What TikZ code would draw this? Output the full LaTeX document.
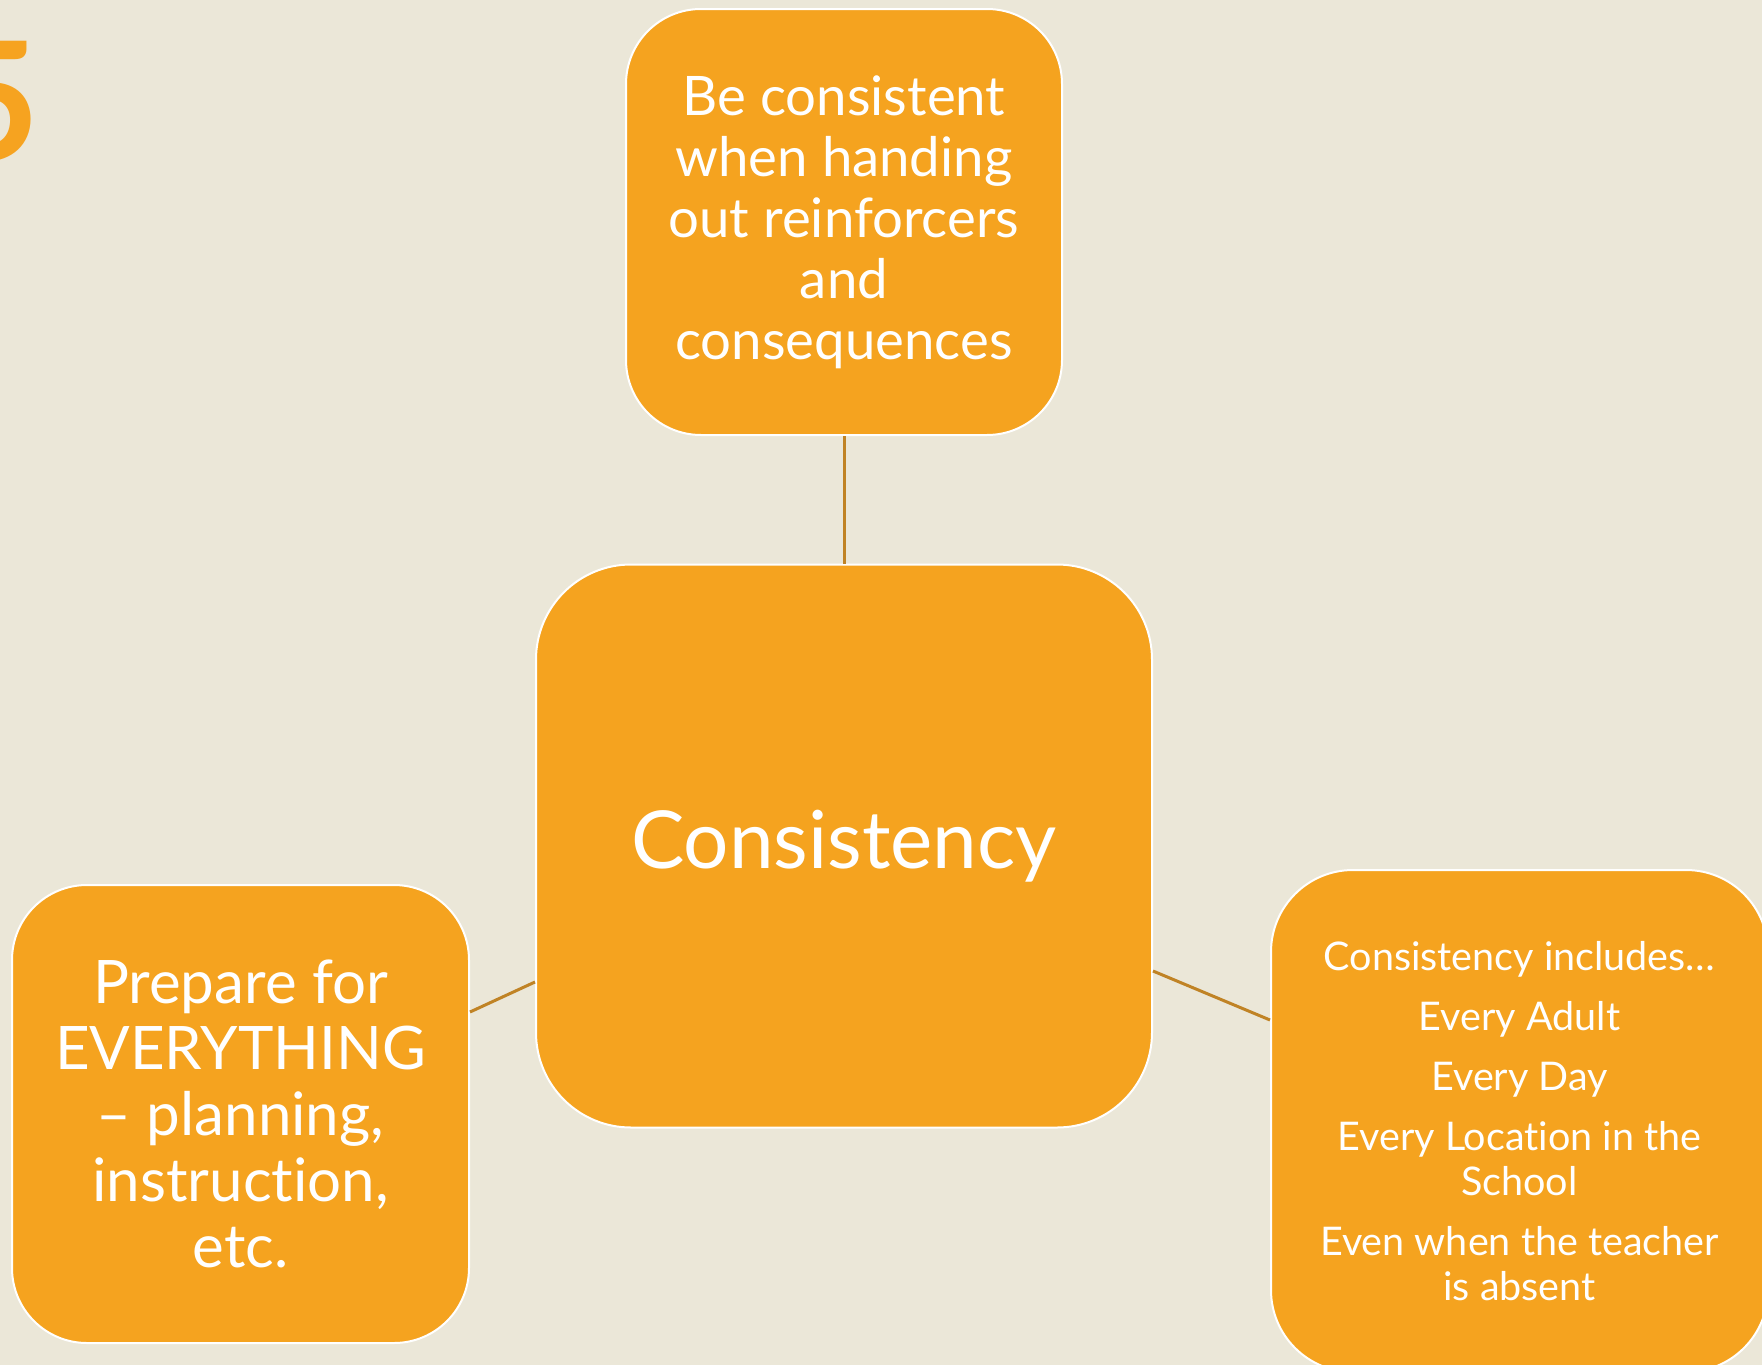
\documentclass[tikz,border=0pt]{standalone}
\usepackage{fontspec}
\setmainfont{Lato}[Ligatures=NoCommon]
\definecolor{bg}{HTML}{EBE7D8}
\definecolor{boxfill}{HTML}{F5A31F}
\definecolor{conn}{HTML}{C08325}
\definecolor{numcol}{HTML}{F6A320}
\tikzset{
  box/.style={draw=white, line width=2pt, fill=boxfill, text=white, align=center, inner sep=0pt},
  conline/.style={draw=conn, line width=3pt}
}
\begin{document}
\begin{tikzpicture}[x=1pt,y=-1pt]
\useasboundingbox (0,0) rectangle (1762,1365);
\fill[bg] (0,0) rectangle (1762,1365);
\node[text=numcol, font=\bfseries\fontsize{165}{165}\selectfont, anchor=base east, inner sep=0pt] (num) at (40,160) {5};
\node[box, minimum width=436pt, minimum height=426pt, rounded corners=75pt,
      font=\fontsize{54.5}{61}\selectfont] (top) at (844,222)
  {Be consistent\\when handing\\out reinforcers\\and\\consequences};
\node[box, minimum width=616pt, minimum height=563pt, rounded corners=95pt,
      font=\fontsize{80}{90}\selectfont] (center) at (844,846)
  {Consistency};
\node[box, minimum width=457pt, minimum height=458pt, rounded corners=75pt,
      font=\fontsize{60}{66}\selectfont] (left) at (240.5,1114)
  {Prepare for\\EVERYTHING\\– planning,\\instruction,\\etc.};
\node[box, minimum width=497pt, minimum height=502pt, rounded corners=82pt,
      font=\fontsize{39.5}{45}\selectfont] (right) at (1519.5,1121)
  {Consistency includes…\\[15pt]Every Adult\\[15pt]Every Day\\[15pt]Every Location in the\\School\\[15pt]Even when the teacher\\is absent};
\draw[conline] (top.south) -- (center.north);
\draw[conline] (left.east |- 0,1012) -- (center.west |- 0,982);
\draw[conline] (center.east |- 0,971) -- (right.west |- 0,1020);
\end{tikzpicture}
\end{document}
